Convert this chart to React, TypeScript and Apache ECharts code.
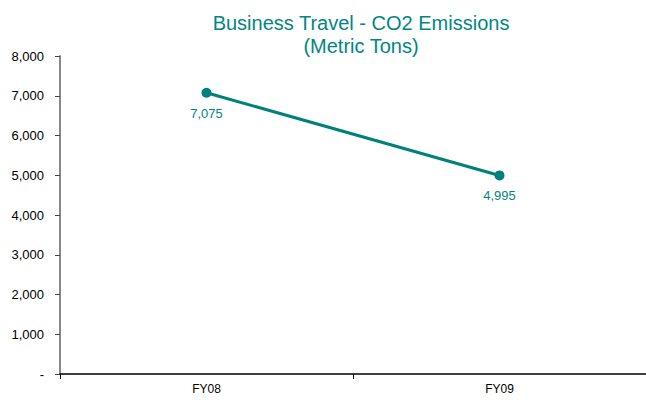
import React, { useEffect, useRef } from "react";
import * as echarts from "echarts";

const categories = ["FY08", "FY09"];
const emissions = [7075, 4995];
const yTicks = [0, 1000, 2000, 3000, 4000, 5000, 6000, 7000, 8000];

export default function App() {
  const ref = useRef<HTMLDivElement>(null);
  useEffect(() => {
    if (!ref.current) return;
    const chart = echarts.init(ref.current, null, { renderer: "svg" });
    chart.setOption({
      animation: false,
      backgroundColor: "#ffffff",
      title: {
        text: "Business Travel - CO2 Emissions\n(Metric Tons)",
        left: 356,
        textAlign: "center",
        top: 6,
        textStyle: {
          color: "#00877f",
          fontFamily: "Liberation Sans, Arial, sans-serif",
          fontSize: 20,
          fontWeight: "normal",
          lineHeight: 23,
        },
      },
      grid: { left: 60, right: 0, top: 56, bottom: 26, containLabel: false },
      xAxis: {
        type: "category",
        data: categories,
        axisLine: { lineStyle: { color: "#000000", width: 1.5 } },
        axisTick: { show: true, length: 5, lineStyle: { color: "#000000" } },
        axisLabel: {
          color: "#000000",
          fontFamily: "Liberation Sans, Arial, sans-serif",
          fontSize: 12,
          margin: 9,
        },
        splitLine: { show: false },
      },
      yAxis: {
        type: "value",
        min: 0,
        max: yTicks[yTicks.length - 1],
        interval: 1000,
        axisLine: { show: true, lineStyle: { color: "#888888", width: 2 } },
        axisTick: { show: true, length: 5, lineStyle: { color: "#444444" } },
        splitLine: { show: false },
        axisLabel: {
          color: "#000000",
          fontFamily: "Liberation Sans, Arial, sans-serif",
          fontSize: 13,
          margin: 16,
          formatter: (v: number) => (v === 0 ? "-" : v.toLocaleString("en-US")),
        },
      },
      series: [
        {
          type: "line",
          data: emissions,
          symbol: "circle",
          symbolSize: 10,
          lineStyle: { color: "#00807a", width: 3 },
          itemStyle: { color: "#00807a" },
          label: {
            show: true,
            position: "bottom",
            distance: 9,
            color: "#00877f",
            fontFamily: "Liberation Sans, Arial, sans-serif",
            fontSize: 13,
            formatter: (p: any) => Number(p.value).toLocaleString("en-US"),
          },
        },
      ],
    });
    return () => chart.dispose();
  }, []);
  return (
    <div
      ref={ref}
      style={{ position: "fixed", left: 0, top: 0, width: 646, height: 400 }}
    />
  );
}
